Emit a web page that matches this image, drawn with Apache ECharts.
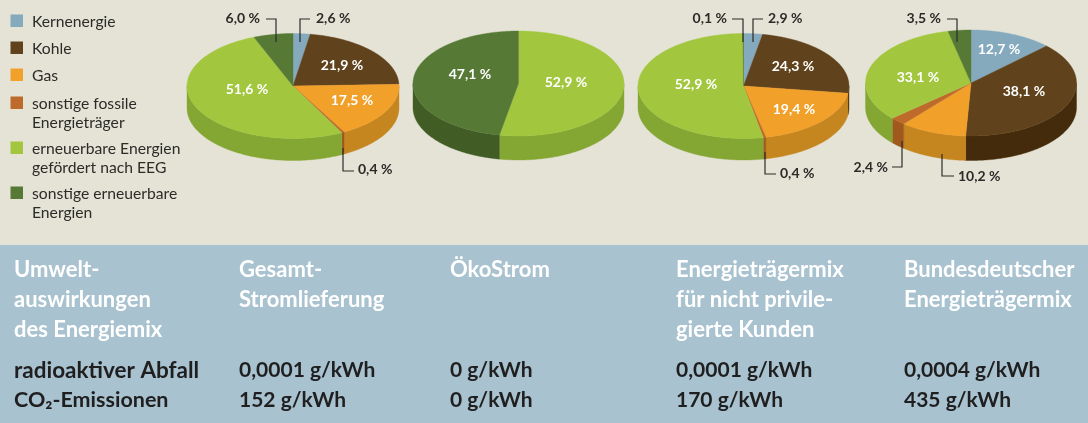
<!DOCTYPE html>
<html>
<head>
<meta charset="utf-8">
<style>
html, body { margin: 0; padding: 0; background: #e5e3d6; }
#main { width: 1088px; height: 423px; }
</style>
<script src="https://cdn.jsdelivr.net/npm/echarts@6/dist/echarts.min.js"></script>
</head>
<body>
<div id="main"></div>
<script>
// order is the same in every pie, clockwise from 12 o'clock
const sources = ['Kernenergie', 'Kohle', 'Gas', 'sonstige fossile\nEnergieträger',
    'erneuerbare Energien\ngefördert nach EEG', 'sonstige erneuerbare\nEnergien'];
const shareGesamt = [2.6, 21.9, 17.5, 0.4, 51.6, 6.0];
const shareOeko = [0, 0, 0, 0, 52.9, 47.1];
const shareMix = [2.9, 24.3, 19.4, 0.4, 52.9, 0.1];
const shareBund = [12.7, 38.1, 10.2, 2.4, 33.1, 3.5];

const tableHeads = ['Umwelt-\nauswirkungen\ndes Energiemix', 'Gesamt-\nStromlieferung', 'ÖkoStrom',
    'Energieträgermix\nfür nicht privile-\ngierte Kunden', 'Bundesdeutscher\nEnergieträgermix'];
const wasteRow = ['radioaktiver Abfall', '0,0001 g/kWh', '0 g/kWh', '0,0001 g/kWh', '0,0004 g/kWh'];
const co2Row = ['CO₂-Emissionen', '152 g/kWh', '0 g/kWh', '170 g/kWh', '435 g/kWh'];

const topColors = ['#85a9bd', '#60421c', '#f1a02a', '#bd6a2b', '#a2c73f', '#567a36'];
const wallColors = ['#6f8fa0', '#432b0b', '#c6861f', '#a0581c', '#84a632', '#415d25'];
const fontName = 'Lato, "Noto Sans", sans-serif';

// layout of each pie: centre, radii, wall height; label anchors per slice.
// inside = label centre, tag = outer label with its leader line
const pieLayout = [
    {values: shareGesamt, cx: 293, cy: 86, rx: 106, ry: 52.5, h: 22, labels: [
        {tag: [[300, 42], [300, 19], [310, 19]], x: 316, y: 18, align: 'left'},
        {x: 342, y: 65}, {x: 352, y: 100},
        {tag: [[343, 148], [343, 171], [354, 171]], x: 358, y: 169, align: 'left'},
        {x: 247, y: 89},
        {tag: [[276, 42], [276, 19], [266, 19]], x: 260, y: 18, align: 'right'}
    ]},
    {values: shareOeko, cx: 518.5, cy: 83.5, rx: 105.5, ry: 52.5, h: 24, labels: [
        null, null, null, null, {x: 566, y: 82}, {x: 470, y: 74}
    ]},
    {values: shareMix, cx: 743.5, cy: 86, rx: 105.5, ry: 52.5, h: 21.5, labels: [
        {tag: [[753, 42], [753, 19], [763, 19]], x: 768, y: 18, align: 'left'},
        {x: 793, y: 66}, {x: 794, y: 109},
        {tag: [[765, 152], [765, 174], [776, 174]], x: 780, y: 173, align: 'left'},
        {x: 696, y: 84},
        {tag: [[743, 42], [743, 19], [732, 19]], x: 727, y: 18, align: 'right'}
    ]},
    {values: shareBund, cx: 971, cy: 83, rx: 105.5, ry: 53, h: 24.5, labels: [
        {x: 999, y: 49}, {x: 1024, y: 91},
        {tag: [[942, 154], [942, 176], [954, 176]], x: 958, y: 176, align: 'left'},
        {tag: [[902, 141], [902, 167], [892, 167]], x: 888, y: 167, align: 'right'},
        {x: 918, y: 77},
        {tag: [[957, 42], [957, 19], [947, 19]], x: 941, y: 18, align: 'right'}
    ]}
];

function arcPoints(p, a0, a1, shift) {
    const pts = [];
    const n = Math.max(2, Math.ceil((a1 - a0) * 90));
    for (let i = 0; i <= n; i++) {
        const a = a0 + (a1 - a0) * i / n;
        pts.push([p.cx + p.rx * Math.sin(a), p.cy - p.ry * Math.cos(a) + shift]);
    }
    return pts;
}

function pieSeries(p) {
    const total = p.values.reduce((s, v) => s + v, 0);
    let run = 0;
    const rows = p.values.map((v) => {
        const row = [v, run];
        run += v;
        return row;
    });
    return {
        type: 'custom',
        coordinateSystem: 'none',
        silent: true,
        animation: false,
        data: rows,
        renderItem: function (params, api) {
            const i = params.dataIndex;
            const v = api.value(0);
            if (!v) return {type: 'group', children: []};
            const a0 = api.value(1) / total * Math.PI * 2;
            const a1 = a0 + v / total * Math.PI * 2;
            const kids = [];
            // side wall only exists on the front half of the disc
            const w0 = Math.max(a0, Math.PI / 2);
            const w1 = Math.min(a1, Math.PI * 1.5);
            if (w1 > w0) {
                const wall = arcPoints(p, w0, w1, 0).concat(arcPoints(p, w0, w1, p.h).reverse());
                kids.push({type: 'polygon', shape: {points: wall},
                    style: {fill: wallColors[i], stroke: wallColors[i], lineWidth: 0.4}});
            }
            const top = [[p.cx, p.cy]].concat(arcPoints(p, a0, a1, 0));
            kids.push({type: 'polygon', shape: {points: top},
                style: {fill: topColors[i], stroke: topColors[i], lineWidth: 0.4}});
            const lab = p.labels[i];
            if (lab) {
                const txt = v.toFixed(1).replace('.', ',') + ' %';
                if (lab.tag) {
                    kids.push({type: 'polyline', z2: 20, shape: {points: lab.tag},
                        style: {fill: 'none', stroke: '#2b2b28', lineWidth: 1.2}});
                }
                kids.push({type: 'text', z2: 21, style: {
                    text: txt, x: lab.x, y: lab.y,
                    align: lab.align || 'center', verticalAlign: 'middle',
                    font: 'bold 14px ' + fontName,
                    fill: lab.tag ? '#2b2b28' : '#ffffff'
                }});
            }
            return {type: 'group', children: kids};
        }
    };
}

const graphics = [{type: 'rect', shape: {x: 0, y: 245, width: 1088, height: 178}, style: {fill: '#a9c2d0'}}];

// legend, the multi-line names keep the swatch on the first line
const legendY = [21, 48, 75, 103, 148, 193];
sources.forEach((name, i) => {
    graphics.push({type: 'rect', shape: {x: 10.5, y: legendY[i] - 6.5, width: 12.5, height: 12.5},
        style: {fill: topColors[i]}});
    graphics.push({type: 'text', style: {
        text: name, x: 32, y: legendY[i] - 9, font: '15.7px ' + fontName, lineHeight: 19,
        fill: '#2b2b28', verticalAlign: 'top'
    }});
});

const colX = [14, 239, 450, 676, 904];
colX.forEach((x, i) => {
    // first column has no digits, lato's are wide so it needs a larger size to reach the same width
    const wasteFont = 'bold ' + (i === 0 ? 22.5 : 21) + 'px ' + fontName;
    const co2Font = 'bold ' + (i === 0 ? 21.5 : 21) + 'px ' + fontName;
    graphics.push({type: 'text', style: {
        text: tableHeads[i], x: x, y: 255, font: 'bold 22px ' + fontName, lineHeight: 30,
        fill: '#ffffff', verticalAlign: 'top'
    }});
    graphics.push({type: 'text', style: {
        text: wasteRow[i], x: x, y: 370.5, font: wasteFont,
        fill: '#1f1f1f', verticalAlign: 'middle'
    }});
    graphics.push({type: 'text', style: {
        text: co2Row[i], x: x, y: 400.5, font: co2Font,
        fill: '#1f1f1f', verticalAlign: 'middle'
    }});
});

const chart = echarts.init(document.getElementById('main'));
chart.setOption({
    backgroundColor: '#e5e3d6',
    animation: false,
    graphic: {elements: graphics},
    series: pieLayout.map(pieSeries)
});
</script>
</body>
</html>
